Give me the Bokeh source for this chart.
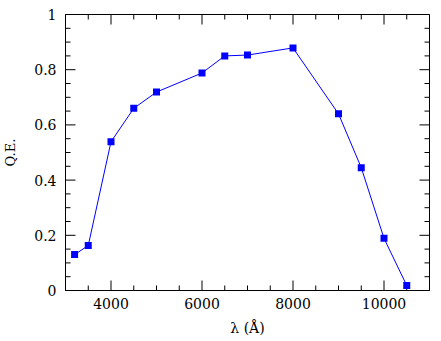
import math
from bokeh.plotting import figure
from bokeh.models import LinearAxis, FixedTicker, Range1d
from bokeh.embed import file_html
from bokeh.resources import INLINE

wavelength = [3200, 3500, 4000, 4500, 5000, 6000, 6500, 7000, 8000, 9000, 9500, 10000, 10500]
qe = [0.130, 0.163, 0.539, 0.660, 0.719, 0.788, 0.850, 0.853, 0.879, 0.640, 0.445, 0.189, 0.018]

x_major = [4000, 6000, 8000, 10000]
x_minor = [v for v in range(3000, 11001, 500) if v not in (4000, 6000, 8000, 10000)]
y_major = [0, 0.2, 0.4, 0.6, 0.8, 1.0]
y_minor = [i / 20 for i in range(0, 21) if i % 4 != 0]

X0, X1 = 3000, 11000
Y0, Y1 = 0, 1

FONT = "DejaVu Serif"

p = figure(width=440, height=340, output_backend="svg", toolbar_location=None,
           x_range=Range1d(X0, X1), y_range=Range1d(Y0, Y1),
           x_axis_location=None, y_axis_location=None,
           min_border_left=62, min_border_right=11, min_border_top=14, min_border_bottom=50)
p.grid.visible = False
p.outline_line_color = "black"
p.outline_line_width = 1
p.background_fill_color = "white"
p.border_fill_color = "white"


def style(ax):
    ax.major_tick_line_color = None
    ax.minor_tick_line_color = None
    ax.major_tick_out = 0
    ax.minor_tick_out = 0
    ax.axis_line_color = "black"
    ax.major_label_text_font = FONT
    ax.major_label_text_font_size = "14px"
    ax.major_label_text_color = "black"
    ax.axis_label_text_font = FONT
    ax.axis_label_text_font_style = "normal"
    ax.axis_label_text_color = "black"


xb = LinearAxis(ticker=FixedTicker(ticks=x_major), axis_label="λ (Å)")
style(xb)
xb.major_label_standoff = 7
xb.axis_label_standoff = 8
xb.axis_label_text_font_size = "14px"
p.add_layout(xb, "below")

yl = LinearAxis(ticker=FixedTicker(ticks=y_major), axis_label="Q.E.")
style(yl)
yl.major_label_standoff = 9
yl.axis_label_standoff = 13
yl.axis_label_text_font_size = "13px"
yl.major_label_overrides = {0: "0", 1: "1"}
p.add_layout(yl, "left")

# tick marks drawn inward on all four sides (clipped to the frame)
for xs, size in ((x_major, 20), (x_minor, 10)):
    for yv in (Y0, Y1):
        p.scatter(xs, [yv] * len(xs), marker="dash", angle=math.pi / 2, size=size,
                  line_color="black", line_width=1)
for ys, size in ((y_major, 20), (y_minor, 10)):
    for xv in (X0, X1):
        p.scatter([xv] * len(ys), ys, marker="dash", angle=0, size=size,
                  line_color="black", line_width=1)

p.line(wavelength, qe, line_color="#0000ff", line_width=1)
p.scatter(wavelength, qe, marker="square", size=7, fill_color="#0000ff", line_color="#0000ff", line_width=0)

open("out.html", "w").write(file_html(p, INLINE))
